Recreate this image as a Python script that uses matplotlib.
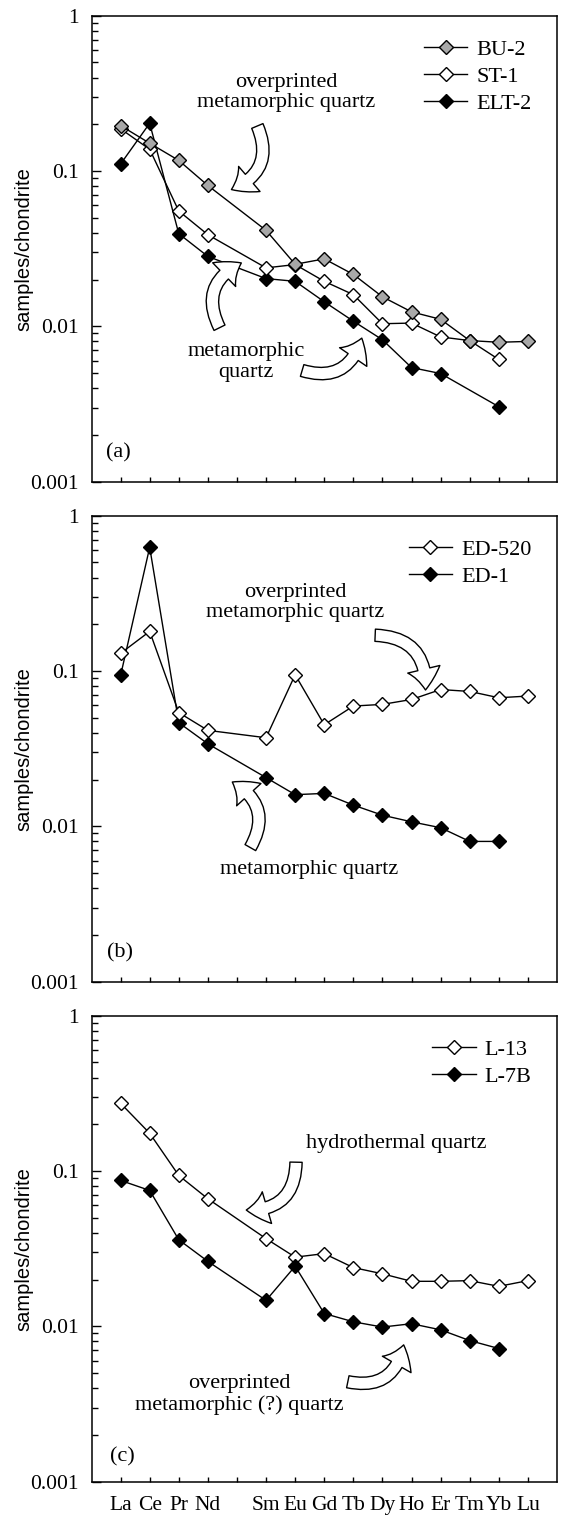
import numpy as np
import matplotlib.pyplot as plt
from matplotlib.patches import FancyArrowPatch
from matplotlib.ticker import NullFormatter

plt.rcParams['font.family'] = ['Liberation Serif', 'DejaVu Serif']

# === data: chondrite-normalised REE ===
elements = ['La', 'Ce', 'Pr', 'Nd', '', 'Sm', 'Eu', 'Gd', 'Tb', 'Dy', 'Ho', 'Er', 'Tm', 'Yb', 'Lu']
x_pos = np.arange(1, 16)
nan = np.nan

# (a)
bu2 = [0.196, 0.151, 0.117, 0.0807, nan, 0.0415, 0.0251, 0.0272, 0.0216, 0.0155, 0.0124, 0.0111, 0.0081, 0.0079, 0.0080]
st1 = [0.187, 0.138, 0.0553, 0.0389, nan, 0.0238, 0.0250, 0.0195, 0.0160, 0.0104, 0.0105, 0.00855, 0.0081, 0.00612, nan]
elt2 = [0.111, 0.203, 0.0395, 0.0282, nan, 0.0203, 0.0195, 0.0144, 0.0108, 0.0082, 0.00543, 0.00497, nan, 0.00304, nan]
# (b)
ed520 = [0.130, 0.180, 0.054, 0.0415, nan, 0.0372, 0.0946, 0.0451, 0.0595, 0.0610, 0.0656, 0.0760, 0.0739, 0.0673, 0.0690]
ed1 = [0.0936, 0.626, 0.0465, 0.0340, nan, 0.0206, 0.0160, 0.0163, 0.0137, 0.0118, 0.0107, 0.0098, 0.0080, 0.0080, nan]
# (c)
l13 = [0.273, 0.175, 0.0936, 0.0663, nan, 0.0367, 0.0279, 0.0294, 0.0239, 0.0218, 0.0195, 0.0195, 0.0197, 0.0181, 0.0197]
l7b = [0.087, 0.075, 0.0361, 0.0262, nan, 0.0147, 0.0244, 0.0121, 0.0107, 0.0099, 0.0104, 0.0095, 0.0081, 0.0072, nan]

SERIF = 16
fig = plt.figure(figsize=(5.63, 15.15), dpi=100)
W, H = 563.0, 1515.0
left, width, height = 91.5 / W, 465.5 / W, 466 / H
bottoms = [1 - 481.7 / H, 1 - 981.7 / H, 1 - 1481.7 / H]


def plot_series(ax, values, face, label, z):
    v = np.array(values, dtype=float)
    ok = ~np.isnan(v)
    return ax.plot(x_pos[ok], v[ok], '-', color='black', lw=1.0, marker='D', ms=6.8,
                   mfc=face, mec='black', mew=1.0, label=label, zorder=z)[0]


def arrow(ax, tail, tip, rad):
    # big hollow curved arrow drawn over the lines
    a = FancyArrowPatch(posA=tail, posB=tip, connectionstyle=f'arc3,rad={rad}',
                        arrowstyle='simple,head_length=0.68,head_width=1.08,tail_width=0.4',
                        mutation_scale=22, fc='white', ec='black', lw=1.0,
                        shrinkA=0, shrinkB=0, zorder=6)
    ax.add_patch(a)


def setup(ax, show_labels):
    ax.set_yscale('log')
    ax.set_ylim(0.001, 1)
    ax.set_xlim(0, 16)
    ax.set_xticks(x_pos)
    ax.set_xticklabels(elements if show_labels else [''] * len(elements))
    ax.set_yticks([0.001, 0.01, 0.1, 1])
    ax.set_yticklabels(['0.001', '0.01', '0.1', '1'])
    ax.yaxis.set_minor_formatter(NullFormatter())
    ax.tick_params(which='both', direction='in', labelsize=15.5, width=1.0)
    ax.tick_params(axis='x', which='major', length=3.5, pad=10)
    ax.tick_params(axis='y', which='major', length=6.5, pad=9)
    ax.tick_params(axis='y', which='minor', length=4.3)
    for s in ax.spines.values():
        s.set_linewidth(1.1)
    ax.set_ylabel('samples/chondrite', family='Liberation Sans', fontsize=14.5)
    ax.yaxis.set_label_coords(-0.125, 0.5)


def legend(ax, handles):
    ax.legend(handles=handles, loc='upper right', bbox_to_anchor=(0.945, 0.95),
              frameon=False, fontsize=SERIF, handlelength=1.95, handletextpad=0.4,
              labelspacing=0.3, borderpad=0, borderaxespad=0)


axes = [fig.add_axes([left, b, width, height]) for b in bottoms]

# === (a) ===
ax = axes[0]
setup(ax, False)
h_elt = plot_series(ax, elt2, 'black', 'ELT-2', 3)
h_st = plot_series(ax, st1, 'white', 'ST-1', 4)
h_bu = plot_series(ax, bu2, '#a8a8a8', 'BU-2', 5)
legend(ax, [h_bu, h_st, h_elt])
ax.text(6.69, 0.32, 'overprinted\nmetamorphic quartz', ha='center', va='center',
        fontsize=SERIF, linespacing=1.1, zorder=7)
ax.text(5.32, 0.0059, 'metamorphic\nquartz', ha='center', va='center',
        fontsize=SERIF, linespacing=1.1, zorder=7)
ax.text(0.91, 0.00153, '(a)', ha='center', va='center', fontsize=SERIF)
arrow(ax, (5.70, 0.195), (4.81, 0.076), -0.5)
arrow(ax, (4.40, 0.0098), (5.15, 0.0256), -0.5)
arrow(ax, (7.24, 0.0052), (9.29, 0.0084), 0.5)

# === (b) ===
ax = axes[1]
setup(ax, False)
h_ed1 = plot_series(ax, ed1, 'black', 'ED-1', 3)
h_ed520 = plot_series(ax, ed520, 'white', 'ED-520', 4)
legend(ax, [h_ed520, h_ed1])
ax.text(7.0, 0.276, 'overprinted\nmetamorphic quartz', ha='center', va='center',
        fontsize=SERIF, linespacing=1.1, zorder=7)
ax.text(7.48, 0.00524, 'metamorphic quartz', ha='center', va='center',
        fontsize=SERIF, zorder=7)
ax.text(0.98, 0.00153, '(b)', ha='center', va='center', fontsize=SERIF)
arrow(ax, (9.75, 0.17), (11.48, 0.0755), -0.5)
arrow(ax, (5.46, 0.0073), (4.84, 0.0193), 0.5)

# === (c) ===
ax = axes[2]
setup(ax, True)
h_l13 = plot_series(ax, l13, 'white', 'L-13', 3)
h_l7b = plot_series(ax, l7b, 'black', 'L-7B', 4)
legend(ax, [h_l13, h_l7b])
ax.text(10.46, 0.151, 'hydrothermal quartz', ha='center', va='center',
        fontsize=SERIF, zorder=7)
ax.text(5.08, 0.00364, 'overprinted\nmetamorphic (?) quartz', ha='center', va='center',
        fontsize=SERIF, linespacing=1.1, zorder=7)
ax.text(1.06, 0.00144, '(c)', ha='center', va='center', fontsize=SERIF)
arrow(ax, (7.03, 0.114), (5.32, 0.0561), -0.5)
arrow(ax, (8.81, 0.0044), (10.73, 0.0076), 0.5)

fig.savefig('out.png', dpi=100, facecolor='white')
